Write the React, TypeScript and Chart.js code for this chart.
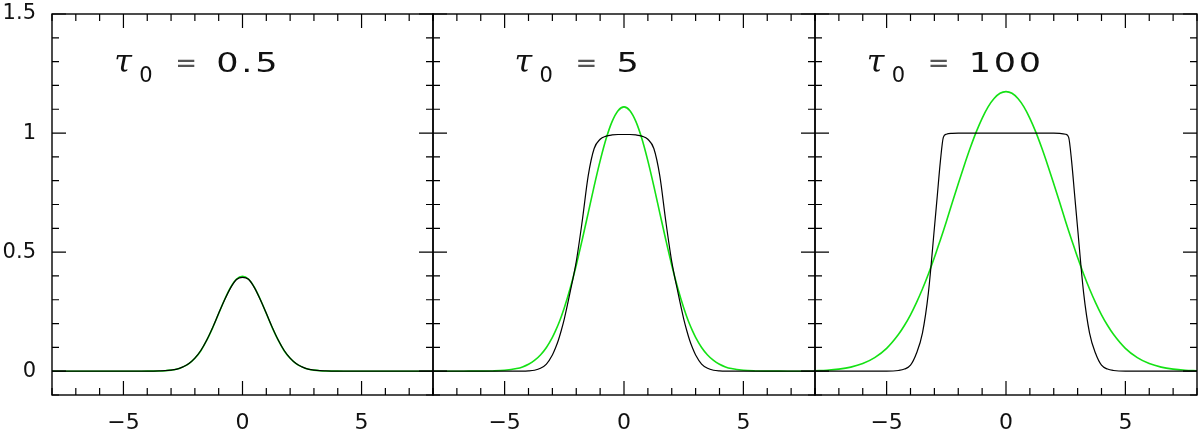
import React, { useEffect, useRef } from 'react';
import { Chart, registerables } from 'chart.js';

Chart.register(...registerables);

// ---------- data ----------
const X = [-8, -7.5, -7, -6.5, -6, -5.5, -5, -4.5, -4.25, -4, -3.75, -3.5, -3.25, -3, -2.875, -2.75, -2.625, -2.5, -2.25, -2, -1.75, -1.5, -1.25, -1, -0.75, -0.5, -0.25, 0, 0.25, 0.5, 0.75, 1, 1.25, 1.5, 1.75, 2, 2.25, 2.5, 2.625, 2.75, 2.875, 3, 3.25, 3.5, 3.75, 4, 4.25, 4.5, 5, 5.5, 6, 6.5, 7, 7.5, 8];

const P1_BLACK = [0, 0, 0, 0, 0, 0, 0, 0, 0, 0.0001, 0.0004, 0.001, 0.002, 0.0045, 0.0065, 0.009, 0.013, 0.018, 0.032, 0.055, 0.087, 0.131, 0.184, 0.243, 0.300, 0.350, 0.385, 0.394, 0.386, 0.351, 0.300, 0.243, 0.184, 0.131, 0.087, 0.055, 0.032, 0.018, 0.013, 0.009, 0.0065, 0.0045, 0.002, 0.001, 0.0004, 0.0001, 0, 0, 0, 0, 0, 0, 0, 0, 0];
const P1_GREEN = [0, 0, 0, 0, 0, 0, 0, 0, 0, 0.0001, 0.0004, 0.0009, 0.002, 0.0044, 0.0064, 0.009, 0.0127, 0.018, 0.032, 0.054, 0.086, 0.130, 0.183, 0.242, 0.301, 0.352, 0.387, 0.399, 0.387, 0.352, 0.301, 0.242, 0.183, 0.130, 0.086, 0.054, 0.032, 0.018, 0.0127, 0.009, 0.0064, 0.0044, 0.002, 0.0009, 0.0004, 0.0001, 0, 0, 0, 0, 0, 0, 0, 0, 0];

const P2_BLACK = [0, 0, 0, 0, 0, 0, 0, 0, 0, 0.001, 0.004, 0.012, 0.03, 0.068, 0.096, 0.13, 0.172, 0.22, 0.335, 0.46, 0.63, 0.82, 0.935, 0.974, 0.987, 0.992, 0.994, 0.994, 0.994, 0.992, 0.987, 0.974, 0.935, 0.82, 0.63, 0.46, 0.335, 0.22, 0.172, 0.13, 0.096, 0.068, 0.03, 0.012, 0.004, 0.001, 0, 0, 0, 0, 0, 0, 0, 0, 0];
const P2_GREEN = [0, 0, 0, 0.0001, 0.0003, 0.0011, 0.0037, 0.011, 0.018, 0.029, 0.045, 0.068, 0.0995, 0.142, 0.168, 0.197, 0.230, 0.266, 0.349, 0.445, 0.552, 0.664, 0.777, 0.883, 0.976, 1.048, 1.094, 1.110, 1.094, 1.048, 0.976, 0.883, 0.777, 0.664, 0.552, 0.445, 0.349, 0.266, 0.230, 0.197, 0.168, 0.142, 0.0995, 0.068, 0.045, 0.029, 0.018, 0.011, 0.0037, 0.0011, 0.0003, 0.0001, 0, 0, 0];

const P3_BLACK = [0, 0, 0, 0, 0, 0, 0, 0.003, 0.009, 0.025, 0.075, 0.16, 0.33, 0.60, 0.74, 0.88, 0.982, 0.995, 0.999, 1, 1, 1, 1, 1, 1, 1, 1, 1, 1, 1, 1, 1, 1, 1, 1, 1, 0.999, 0.995, 0.982, 0.88, 0.74, 0.60, 0.33, 0.16, 0.075, 0.025, 0.009, 0.003, 0, 0, 0, 0, 0, 0, 0];
const P3_GREEN = [0.0019, 0.0042, 0.0087, 0.017, 0.032, 0.057, 0.096, 0.155, 0.193, 0.237, 0.288, 0.345, 0.408, 0.477, 0.514, 0.551, 0.589, 0.628, 0.708, 0.787, 0.864, 0.937, 1.004, 1.062, 1.110, 1.145, 1.167, 1.174, 1.167, 1.145, 1.110, 1.062, 1.004, 0.937, 0.864, 0.787, 0.708, 0.628, 0.589, 0.551, 0.514, 0.477, 0.408, 0.345, 0.288, 0.237, 0.193, 0.155, 0.096, 0.057, 0.032, 0.017, 0.0087, 0.0042, 0.0019];

const X_TICK_LABELS = [-5, 0, 5];
const Y_TICK_LABELS = [0, 0.5, 1, 1.5];
const TAU_VALUES = ['0.5', '5', '100'];
const TAU_X = [-5.3, -4.5, -5.75];
const TAU_Y = 1.258;

const X_MIN = -8, X_MAX = 8, Y_MIN = -0.1, Y_MAX = 1.5;

// ---------- layout ----------
const W = 1200, H = 432;
const PANELS = [
  { left: 52, right: 433, showY: true, black: P1_BLACK, green: P1_GREEN },
  { left: 433, right: 815, showY: false, black: P2_BLACK, green: P2_GREEN },
  { left: 815, right: 1197, showY: false, black: P3_BLACK, green: P3_GREEN },
];

const FONT = '"DejaVu Sans", sans-serif';

const framePlugin = {
  id: 'frame',
  afterDatasetsDraw(chart: any, _args: any, opts: any) {
    const { ctx, chartArea: a, scales } = chart;
    const xs = scales.x, ys = scales.y;
    ctx.save();
    ctx.strokeStyle = '#000';
    ctx.lineWidth = 1.4;
    ctx.strokeRect(a.left, a.top, a.right - a.left, a.bottom - a.top);
    ctx.lineWidth = 1.2;
    ctx.beginPath();
    for (let i = X_MIN; i <= X_MAX; i++) {
      const px = xs.getPixelForValue(i);
      const len = i % 5 === 0 ? 14 : 7;
      ctx.moveTo(px, a.bottom); ctx.lineTo(px, a.bottom - len);
      ctx.moveTo(px, a.top); ctx.lineTo(px, a.top + len);
    }
    for (let j = -1; j <= 15; j++) {
      const py = ys.getPixelForValue(j / 10);
      const len = j % 5 === 0 ? 14 : 7;
      ctx.moveTo(a.left, py); ctx.lineTo(a.left + len, py);
      ctx.moveTo(a.right, py); ctx.lineTo(a.right - len, py);
    }
    ctx.stroke();

    // tau annotation
    const tx = xs.getPixelForValue(opts.tx);
    const ty = ys.getPixelForValue(TAU_Y);
    ctx.fillStyle = '#111';
    ctx.textAlign = 'left';
    ctx.textBaseline = 'alphabetic';
    ctx.font = 'italic 32px "DejaVu Serif", serif';
    ctx.fillText('τ', tx - 2, ty);
    ctx.font = '21px ' + FONT;
    ctx.fillText('0', tx + 23, ty + 10);
    ctx.font = '26px ' + FONT;
    ctx.fillStyle = '#555';
    ctx.fillText('=', tx + 59, ty);
    ctx.fillStyle = '#111';
    ctx.save();
    ctx.translate(tx + 100, ty);
    ctx.scale(1.35, 1);
    (ctx as any).letterSpacing = '2px';
    ctx.fillText(opts.value, 0, 0);
    ctx.restore();
    ctx.restore();
  },
};

function Panel({ idx }: { idx: number }) {
  const ref = useRef<HTMLCanvasElement>(null);
  useEffect(() => {
    const p = PANELS[idx];
    const chart = new Chart(ref.current as HTMLCanvasElement, {
      type: 'line',
      data: {
        datasets: [
          {
            data: X.map((x, i) => ({ x, y: p.black[i] })),
            borderColor: '#000',
            borderWidth: 1.2,
            pointRadius: 0,
            cubicInterpolationMode: 'monotone',
          },
          {
            data: X.map((x, i) => ({ x, y: p.green[i] })),
            borderColor: 'rgb(20,225,20)',
            borderWidth: 1.6,
            pointRadius: 0,
            cubicInterpolationMode: 'monotone',
          },
        ],
      },
      options: {
        responsive: false,
        animation: false,
        events: [],
        layout: {
          padding: { left: p.showY ? 0 : p.left, right: W - p.right, top: 14, bottom: 0 },
        },
        plugins: {
          legend: { display: false },
          tooltip: { enabled: false },
          frame: { tx: TAU_X[idx], value: TAU_VALUES[idx] },
        } as any,
        scales: {
          x: {
            type: 'linear',
            position: 'bottom',
            min: X_MIN,
            max: X_MAX,
            grid: { display: false, drawTicks: false },
            border: { display: false },
            ticks: {
              padding: 15,
              color: '#111',
              font: { family: FONT, size: 22 },
              maxRotation: 0,
              callback: (v: any) => (Number(v) < 0 ? '\u2212' + Math.abs(Number(v)) : String(v)),
            },
            afterBuildTicks: (s: any) => { s.ticks = X_TICK_LABELS.map((value) => ({ value })); },
            afterFit: (s: any) => {
              s.height = H - 395;
              s.paddingLeft = 0; s.paddingRight = 0; s.paddingTop = 0; s.paddingBottom = 0;
            },
          },
          y: {
            type: 'linear',
            display: p.showY,
            min: Y_MIN,
            max: Y_MAX,
            grid: { display: false, drawTicks: false },
            border: { display: false },
            ticks: {
              padding: 16,
              color: '#111',
              font: { family: FONT, size: 21 },
              callback: (v: any) => String(v),
            },
            afterBuildTicks: (s: any) => { s.ticks = Y_TICK_LABELS.map((value) => ({ value })); },
            afterFit: (s: any) => {
              s.width = p.showY ? 52 : 0;
              s.paddingLeft = 0; s.paddingRight = 0; s.paddingTop = 0; s.paddingBottom = 0;
            },
          },
        },
      } as any,
      plugins: [framePlugin as any],
    });
    return () => chart.destroy();
  }, [idx]);
  return (
    <canvas
      ref={ref}
      width={W}
      height={H}
      style={{ position: 'absolute', left: 0, top: 0, width: W, height: H }}
    />
  );
}

export default function App() {
  return (
    <div style={{ position: 'fixed', left: 0, top: 0, width: W, height: H, background: '#fff' }}>
      {PANELS.map((_, i) => (
        <Panel key={i} idx={i} />
      ))}
    </div>
  );
}
